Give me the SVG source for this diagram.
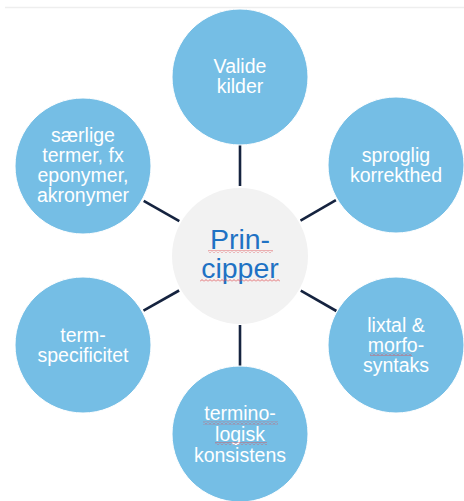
<svg xmlns="http://www.w3.org/2000/svg" width="464" height="501" viewBox="0 0 464 501">
<defs>
<style>
.node{fill:#75BEE5;stroke:#ffffff;stroke-width:1}
.hub{fill:#F2F2F2}
.lbl{font-family:"Liberation Sans",Arial,sans-serif;font-size:19.5px;fill:#ffffff;text-anchor:middle}
.hubt{font-family:"Liberation Sans",Arial,sans-serif;font-size:28.5px;fill:#1F72C4;text-anchor:middle}
.con{stroke:#15233F;stroke-width:2.6;stroke-linecap:butt}
.sq{fill:url(#sq)}
</style>
<pattern id="sq" width="4" height="3" patternUnits="userSpaceOnUse">
<path d="M0,2.5 L2,0.5 L4,2.5" fill="none" stroke="#E0474C" stroke-width="0.8"/>
</pattern>
</defs>
<rect width="464" height="501" fill="#ffffff"/>
<line x1="5" y1="7.5" x2="464" y2="7.5" stroke="#EEEEEE" stroke-width="1.5"/>
<g id="connectors">
<line class="con" x1="240" y1="186" x2="240" y2="145"/>
<line class="con" x1="240" y1="325" x2="240" y2="366"/>
<line class="con" x1="179.3" y1="221.2" x2="143.7" y2="200.8"/>
<line class="con" x1="300.5" y1="220.7" x2="335.9" y2="200.1"/>
<line class="con" x1="300.8" y1="290.7" x2="336.4" y2="311"/>
<line class="con" x1="179.1" y1="290.5" x2="143.5" y2="310.7"/>
</g>
<g id="hub">
<circle class="hub" cx="240" cy="256" r="68"/>
<text class="hubt" x="240" y="249">Prin-</text>
<text class="hubt" x="240" y="278">cipper</text>
<rect class="sq" x="208" y="250" width="65" height="3"/>
<rect class="sq" x="200" y="279" width="80" height="3"/>
</g>
<g id="n-valide">
<circle class="node" cx="240" cy="77" r="68"/>
<text class="lbl" x="240" y="73">Valide</text>
<text class="lbl" x="240" y="93">kilder</text>
</g>
<g id="n-sproglig">
<circle class="node" cx="396" cy="165" r="68"/>
<text class="lbl" x="396" y="162">sproglig</text>
<text class="lbl" x="396" y="182">korrekthed</text>
</g>
<g id="n-lixtal">
<circle class="node" cx="396" cy="345" r="68"/>
<text class="lbl" x="396" y="332">lixtal &amp;</text>
<text class="lbl" x="396" y="352">morfo-</text>
<text class="lbl" x="396" y="372">syntaks</text>
<rect class="sq" x="370" y="353" width="42" height="3"/>
</g>
<g id="n-termino">
<circle class="node" cx="240" cy="434" r="68"/>
<text class="lbl" x="240" y="420">termino-</text>
<text class="lbl" x="240" y="441">logisk</text>
<text class="lbl" x="240" y="462">konsistens</text>
<rect class="sq" x="203" y="421.5" width="75" height="3"/>
<rect class="sq" x="215" y="442" width="52" height="3"/>
</g>
<g id="n-term">
<circle class="node" cx="83" cy="345" r="68"/>
<text class="lbl" x="83" y="342">term-</text>
<text class="lbl" x="83" y="362">specificitet</text>
</g>
<g id="n-saerlige">
<circle class="node" cx="83" cy="166" r="68"/>
<text class="lbl" x="83" y="142">særlige</text>
<text class="lbl" x="83" y="162">termer, fx</text>
<text class="lbl" x="83" y="182">eponymer,</text>
<text class="lbl" x="83" y="202">akronymer</text>
</g>
</svg>
